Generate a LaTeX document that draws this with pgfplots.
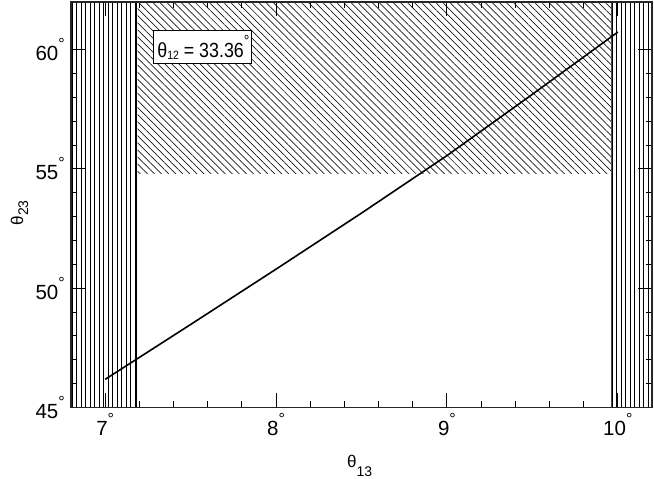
\documentclass[border=0pt]{standalone}
\usepackage{pgfplots}
\pgfplotsset{compat=1.18}
\usepackage{fontspec}
\setmainfont{Liberation Sans}
\newfontfamily\narrowfont{Liberation Sans}[FakeStretch=0.87]
\usetikzlibrary{patterns.meta}
\newcommand\dg{\raisebox{11pt}{\fontsize{16}{16}\selectfont °}}
\begin{document}
\begin{tikzpicture}
\useasboundingbox (-71pt,-71.5pt) rectangle (583pt,407.5pt);
\begin{axis}[
  at={(0pt,0pt)}, anchor=south west, scale only axis,
  width=581pt, height=405.5pt,
  xmin=6.8, xmax=10.2, ymin=45, ymax=62,
  xtick={7,8,9,10}, xticklabels={7\dg,8\dg,9\dg,10\dg},
  ytick={45,50,55,60}, yticklabels={45\dg,50\dg,55\dg,60\dg},
  minor x tick num=4, minor y tick num=4,
  major tick length=14.5pt, minor tick length=6.5pt,
  tick style={black, line width=1pt},
  axis line style={line width=1.2pt, black!85},
  tick label style={font=\fontsize{20.5}{24}\selectfont, inner sep=0pt},
  xticklabel shift=6pt, yticklabel shift=6pt,
  xlabel={\fontsize{17}{19}\selectfont θ\raisebox{-9pt}{\fontsize{14}{14}\selectfont 13}},
  ylabel={\fontsize{17}{19}\selectfont θ\raisebox{-5pt}{\fontsize{14}{14}\selectfont 23}},
  xlabel style={at={(axis description cs:0.497,-0.149)}, anchor=base, inner sep=0pt},
  ylabel style={at={(axis description cs:-0.0826,0.48)}, anchor=base, inner sep=0pt},
  axis on top,
]
% left vertical-line band
\addplot[draw=none, pattern={Lines[angle=90, distance=4.5pt, line width=0.6pt]}, pattern color=black]
  coordinates {(6.8,45) (7.18,45) (7.18,62) (6.8,62)} -- cycle;
% right vertical-line band
\addplot[draw=none, pattern={Lines[angle=90, distance=4.5pt, line width=0.6pt]}, pattern color=black]
  coordinates {(9.965,45) (10.2,45) (10.2,62) (9.965,62)} -- cycle;
% diagonal hatched region
\addplot[draw=none, pattern={Lines[angle=-45, distance=5pt, line width=0.7pt]}, pattern color=black!90]
  coordinates {(7.19,54.8) (9.965,54.8) (9.965,62) (7.19,62)} -- cycle;
% band edges
\addplot[black, line width=0.7pt] coordinates {(7.18,45) (7.18,62)};
\addplot[black!70, line width=0.7pt] coordinates {(9.965,45) (9.965,62)};
% theta23 vs theta13 curve
\addplot[black, line width=1.6pt] coordinates {
  (7.0,46.18) (7.5,48.48) (8.0,50.80) (8.5,53.15) (9.0,55.56) (9.5,58.13) (10.0,60.74)};
\node[draw=black, line width=1.2pt, fill=white, inner sep=0pt, minimum width=98pt, minimum height=33pt,
      anchor=center, font=\narrowfont\fontsize{20.5}{24}\selectfont]
  at (axis cs:7.569,60.10) {\raisebox{2pt}{θ\raisebox{-2pt}{\fontsize{12}{13}\selectfont 12} = 33.36\dg}\hspace*{-2pt}};
\end{axis}
\end{tikzpicture}
\end{document}
